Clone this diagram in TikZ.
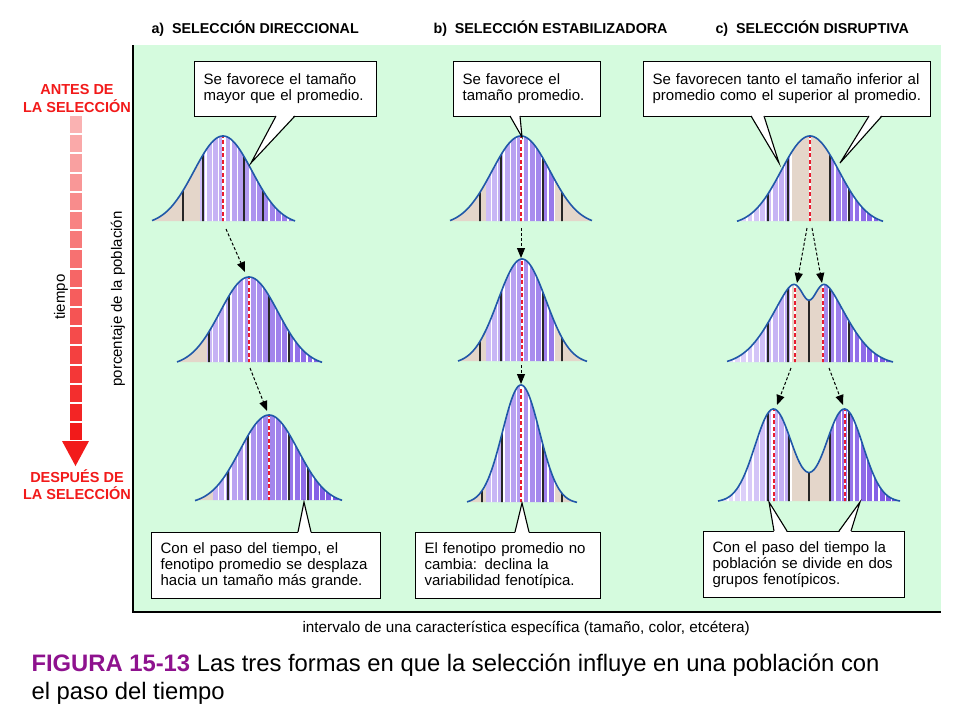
\documentclass[tikz,border=0pt]{standalone}
\usepackage{fontspec}
\setmainfont{Liberation Sans}
\usetikzlibrary{arrows.meta}
\definecolor{panelgreen}{RGB}{213,251,222}
\definecolor{tanc}{RGB}{228,214,202}
\definecolor{purL}{RGB}{238,230,253}
\definecolor{purD}{RGB}{116,74,226}
\definecolor{curveblue}{RGB}{32,88,168}
\definecolor{meanred}{RGB}{232,28,48}
\definecolor{headred}{RGB}{242,26,26}
\definecolor{pinkL}{RGB}{250,178,178}
\definecolor{figpurple}{RGB}{142,18,142}
\pgfmathdeclarefunction{gss}{2}{\pgfmathparse{exp(-((#1)/(#2))*((#1)/(#2)))}}
\tikzset{
  panelline/.style={line width=1.4pt, black},
  curveline/.style={line width=1.6pt, curveblue, line join=round},
  sdline/.style={line width=1.3pt, black!85},
  meanline/.style={line width=1.4pt, meanred, dash pattern=on 4pt off 2.5pt},
  gapline/.style={line width=1.4pt, white},
  genarrow/.style={line width=1pt, densely dashed, -{Triangle[length=10pt,width=8pt]}},
  callout/.style={draw=black, line width=1.2pt, fill=white, anchor=north west, inner xsep=9pt, inner ysep=0pt, align=left, font=\fontsize{15}{16}\selectfont},
  wedgeside/.style={draw=black, line width=1.1pt, line join=miter},
  headtxt/.style={font=\fontsize{14.3}{16}\selectfont\bfseries, anchor=base west},
  sidered/.style={font=\fontsize{14.5}{16}\selectfont\bfseries, text=headred, anchor=base},
  axistxt/.style={font=\fontsize{15}{16}\selectfont},
}
% #1 xmin, #2 xmax, #3 baseline, #4 height expr, #5 tan test, #6 stripe start, #7 stripe end, #8 black xs, #9 red xs
\newcommand\DistCurve[9]{%
  \begin{scope}
    \clip (#1,#3) -- plot[domain=#1:#2, samples=90, smooth] (\x,{#3-(#4)}) -- (#2,#3) -- cycle;
    \pgfmathtruncatemacro\nstripes{(#7-#6)/6.3}%
    \foreach \i in {0,...,\nstripes}{%
      \pgfmathsetmacro\sx{#6+6.3*\i}%
      \pgfmathtruncatemacro\cpct{min(100,max(0,(\sx+3.2-#6)/(#7-#6)*100))}%
      \pgfmathtruncatemacro\istan{#5}%
      \ifnum\istan=1
        \fill[tanc] (\sx,#3+1) rectangle ++(6.4,-160);
      \else
        \fill[purD!\cpct!purL] (\sx,#3+1) rectangle ++(6.4,-160);
        \fill[white] (\sx+4.8,#3+1) rectangle ++(1.5,-160);
      \fi
    }
    \foreach \bx in {#8}{\draw[sdline] (\bx,#3+1) -- ++(0,-160);}
    \foreach \rx in {#9}{\draw[gapline] (\rx,#3+1) -- ++(0,-160); \draw[meanline] (\rx,#3+1) -- ++(0,-160);}
  \end{scope}
  \draw[curveline] plot[domain=#1:#2, samples=90, smooth] (\x,{#3-(#4)});
}
\begin{document}
\begin{tikzpicture}[x=1pt,y=-1pt]
\useasboundingbox (0,0) rectangle (960,720);
\fill[white] (0,0) rectangle (960,720);
% panel
\fill[panelgreen] (133,45) rectangle (941,612);
\draw[panelline] (133,45) -- (133,612) -- (941,612);

% headers
\node[headtxt] (ha) at (148,33) {a)\hspace{0.55em}SELECCIÓN DIRECCIONAL};
\node[headtxt] (hb) at (430,33) {b)\hspace{0.55em}SELECCIÓN ESTABILIZADORA};
\node[headtxt] (hc) at (712,33) {c)\hspace{0.55em}SELECCIÓN DISRUPTIVA};

% left time arrow
\foreach \k in {0,...,16}{%
  \pgfmathtruncatemacro\rp{100*\k/16}%
  \fill[headred!\rp!pinkL] (70,116+19.2*\k) rectangle (82,116+19.2*\k+17.2);
}
\fill[headred] (62,441) -- (89,441) -- (75.5,466) -- cycle;
\node[sidered] (antes1) at (77,94) {ANTES DE};
\node[sidered] (antes2) at (77,112) {LA SELECCIÓN};
\node[sidered] (desp1) at (77,482) {DESPUÉS DE};
\node[sidered] (desp2) at (77,499) {LA SELECCIÓN};
\node[axistxt, rotate=90] (tiempo) at (61,297) {tiempo};
\node[axistxt, rotate=90] (pct) at (118,299) {porcentaje de la población};

% column a
\DistCurve{152}{295}{221}{89*gss(\x-223,41.01)-4}{\sx+3.2<203}{150}{346}{183,203,244,263}{223}
\DistCurve{177}{322}{362}{89*gss(\x-249,41.01)-4}{\sx+3.2<209}{150}{346}{209,229,269,289}{249}
\DistCurve{195}{342}{500}{89*gss(\x-269,41.01)-4}{\sx+3.2<212}{150}{346}{228,248,289,308}{269}
% column b
\DistCurve{450}{592}{221}{89*gss(\x-521,41.01)-4}{or(\sx+3.2<484,\sx+3.2>556)}{448}{596}{480,501,543,562}{521}
\DistCurve{458}{587}{361}{105*gss(\x-522,33.94)-3}{or(\sx+3.2<487,\sx+3.2>553)}{448}{596}{480,501,543,562}{522}
\DistCurve{467}{577}{502}{118.5*gss(\x-521,26.16)-1.5}{or(\sx+3.2<485,\sx+3.2>558)}{448}{596}{482,502,543,562}{521}
% column c
\DistCurve{737}{883}{221}{89*gss(\x-810,41.01)-4}{and(\sx+3.2>790,\sx+3.2<828)}{716}{902}{768,788,830,849}{810}
\DistCurve{727}{893}{362}{96*gss(\x-809,45.25)-31.3*gss(\x-809,11.31)-3}{and(\sx+3.2>792,\sx+3.2<826)}{716}{902}{768,788,809,830,849}{795,823}
\DistCurve{718}{900}{501}{93*(gss(\x-773.5,26.16)+gss(\x-844.5,26.16))-1}{and(\sx+3.2>790,\sx+3.2<828)}{716}{902}{768,789,809,830,849}{774,845}

% arrows between generations
\coordinate (a1s) at (226,229); \coordinate (a1e) at (245,272);
\coordinate (a2s) at (250,368); \coordinate (a2e) at (267,411);
\coordinate (b1s) at (521,228); \coordinate (b1e) at (521,258);
\coordinate (b2s) at (521,365); \coordinate (b2e) at (521,384);
\coordinate (c1s) at (807,228); \coordinate (c1e) at (797,283);
\coordinate (c2s) at (812,228); \coordinate (c2e) at (822,283);
\coordinate (c3s) at (791,368); \coordinate (c3e) at (777,405);
\coordinate (c4s) at (829,368); \coordinate (c4e) at (843,405);
\foreach \p in {a1,a2,b1,b2,c1,c2,c3,c4}{\draw[genarrow] (\p s) -- (\p e);}

% callout boxes
\node[callout, minimum width=182pt, minimum height=55pt, text width=164pt] (ta) at (194,61) {Se favorece el tamaño\\mayor que el promedio.};
\node[callout, minimum width=147pt, minimum height=55pt, text width=129pt] (tb) at (453,61) {Se favorece el\\tamaño promedio.};
\node[callout, minimum width=287pt, minimum height=55pt, text width=269pt] (tc) at (643,61) {Se favorecen tanto el tamaño inferior al\\promedio como el superior al promedio.};
\node[callout, minimum width=229pt, minimum height=66pt, text width=211pt] (ba) at (151,532) {Con el paso del tiempo, el\\fenotipo promedio se desplaza\\hacia un tamaño más grande.};
\node[callout, minimum width=185pt, minimum height=66pt, text width=167pt] (bb) at (415,532) {El fenotipo promedio no\\cambia: declina la\\variabilidad fenotípica.};
\node[callout, minimum width=201pt, minimum height=66pt, text width=183pt] (bc) at (703,531) {Con el paso del tiempo la\\población se divide en dos\\grupos fenotípicos.};

% wedges (top boxes)
\coordinate (wa1) at (276,116); \coordinate (wa2) at (295,116); \coordinate (wat) at (251,163);
\coordinate (wb1) at (510,116); \coordinate (wb2) at (520,116); \coordinate (wbt) at (522,137);
\coordinate (wc1) at (751,116); \coordinate (wc2) at (764,116); \coordinate (wct) at (779,163);
\coordinate (wd1) at (869,116); \coordinate (wd2) at (882,116); \coordinate (wdt) at (840,163);
\foreach \w in {wa,wb,wc,wd}{%
  \fill[white] ([yshift=1.5pt]\w1) -- (\w t) -- ([yshift=1.5pt]\w2) -- cycle;
  \draw[wedgeside] (\w1) -- (\w t) -- (\w2);
}
% wedges (bottom boxes)
\coordinate (xa1) at (298,532); \coordinate (xa2) at (311,532); \coordinate (xat) at (304,502);
\coordinate (xb1) at (515,532); \coordinate (xb2) at (529,532); \coordinate (xbt) at (522,503);
\coordinate (xc1) at (774,531); \coordinate (xc2) at (787,531); \coordinate (xct) at (769,502);
\coordinate (xd1) at (839,531); \coordinate (xd2) at (851,531); \coordinate (xdt) at (860,502);
\foreach \w in {xa,xb,xc,xd}{%
  \fill[white] ([yshift=-1.5pt]\w1) -- (\w t) -- ([yshift=-1.5pt]\w2) -- cycle;
  \draw[wedgeside] (\w1) -- (\w t) -- (\w2);
}

% axis label
\node[font=\fontsize{15.3}{17}\selectfont, anchor=base west] (xlab) at (299,632) {intervalo de una característica específica (tamaño, color, etcétera)};

% caption
\node[anchor=base west, font=\fontsize{23.8}{28}\selectfont] (cap1) at (28,671) {\textcolor{figpurple}{\bfseries FIGURA 15-13} Las tres formas en que la selección influye en una población con};
\node[anchor=base west, font=\fontsize{23.8}{28}\selectfont] (cap2) at (28,699) {el paso del tiempo};
\end{tikzpicture}
\end{document}
